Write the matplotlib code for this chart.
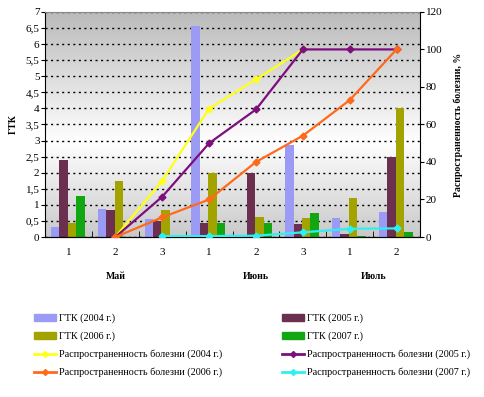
import numpy as np
import matplotlib
matplotlib.use("Agg")
import matplotlib.pyplot as plt
from matplotlib.colors import LinearSegmentedColormap
from matplotlib.lines import Line2D
from matplotlib.patches import Patch

# Данные
tick_labels = ["1", "2", "3", "1", "2", "3", "1", "2"]
months = ["Май", "Июнь", "Июль"]
month_pos = [1, 4, 6.5]

gtk_2004 = [0.31, 0.87, 0.57, 6.55, 0.05, 2.86, 0.58, 0.77]
gtk_2005 = [2.40, 0.85, 0.50, 0.45, 1.98, 0.41, 0.08, 2.50]
gtk_2006 = [0.45, 1.75, 0.85, 1.99, 0.62, 0.59, 1.21, 4.00]
gtk_2007 = [1.26, 0.00, 0.00, 0.45, 0.45, 0.75, 0.04, 0.15]

bol_2004 = [np.nan, 0, 30, 68.5, 84, 100, np.nan, np.nan]
bol_2005 = [np.nan, 0, 21.5, 50, 68, 100, 100, 100]
bol_2006 = [np.nan, 0, 10.5, 20, 40, 54, 73, 100]
bol_2007 = [np.nan, np.nan, 0.5, 0.5, 0.7, 2.5, 4.4, 4.6]

bar_colors = ["#9b9bf5", "#6b2f4f", "#a3a300", "#13a613"]
line_colors = ["#ffff1a", "#7d0f7d", "#ff6a1a", "#2ef0f0"]

plt.rcParams['font.family'] = ['Liberation Serif', 'DejaVu Serif']

fig = plt.figure(figsize=(4.85, 3.97), dpi=100)
ax = fig.add_axes([0.093, 0.403, 0.773, 0.567])

x = np.arange(len(tick_labels))
w = 0.18
series = [gtk_2004, gtk_2005, gtk_2006, gtk_2007]
for i, (vals, col) in enumerate(zip(series, bar_colors)):
    ax.bar(x + (i - 1.6) * w, vals, width=w, color=col, zorder=2)

ax.set_xlim(-0.5, len(x) - 0.5)
ax.set_ylim(0, 7)
ax.set_yticks(np.arange(0, 7.01, 0.5))
ax.set_yticklabels([("%g" % v).replace(".", ",") for v in np.arange(0, 7.01, 0.5)])
ax.set_xticks(x)
ax.set_xticklabels(tick_labels)
ax.set_xticks(np.arange(-0.5, len(x), 1), minor=True)
ax.tick_params(axis='x', which='major', length=0, pad=8, labelsize=8)
ax.tick_params(axis='x', which='minor', length=4, direction='in')
ax.tick_params(axis='y', labelsize=8, length=3, pad=1)
ax.yaxis.grid(True, color='black', linestyle=(0, (1.5, 2.5)), linewidth=1.0, zorder=1)
ax.set_axisbelow(True)
ax.set_ylabel("ГТК", fontsize=7, fontweight='bold', labelpad=6)
ax.spines["right"].set_visible(False)
ax.spines["top"].set_color("#888888")

# фон с градиентом
cmap = LinearSegmentedColormap.from_list("bg", [(0, "#c9c9c9"), (0.42, "#ffffff"), (1, "#bababa")])
grad = np.linspace(0, 1, 256).reshape(-1, 1)
ax.imshow(grad, cmap=cmap, aspect='auto', extent=[-0.5, len(x) - 0.5, 0, 7],
          origin='lower', zorder=0)

for m, p in zip(months, month_pos):
    ax.text(p, -0.155, m, transform=ax.get_xaxis_transform(), ha='center', va='top',
            fontsize=7, fontweight='bold')

ax2 = ax.twinx()
ax2.set_ylim(0, 120)
ax2.set_yticks(range(0, 121, 20))
ax2.tick_params(axis='y', labelsize=8, length=3, pad=1)
for sp in ["top", "left"]:
    ax2.spines[sp].set_visible(False)
lines = [bol_2004, bol_2005, bol_2006, bol_2007]
for vals, col in zip(lines, line_colors):
    ax2.plot(x, vals, color=col, linewidth=1.6, marker='D', markersize=3.5, zorder=3)
ax2.set_ylabel("Распространенность болезни, %", fontsize=7, fontweight='bold',
               rotation=90, labelpad=8)
ax2.set_xlim(-0.5, len(x) - 0.5)

names = ["ГТК (2004 г.)", "ГТК (2005 г.)", "ГТК (2006 г.)", "ГТК (2007 г.)"]
lnames = ["Распространенность болезни (2004 г.)", "Распространенность болезни (2005 г.)",
          "Распространенность болезни (2006 г.)", "Распространенность болезни (2007 г.)"]
bh = [Patch(color=c) for c in bar_colors]
lh = [Line2D([], [], color=c, linewidth=2, marker='D', markersize=3) for c in line_colors]
handles = [bh[0], bh[2], lh[0], lh[2], bh[1], bh[3], lh[1], lh[3]]
labels = [names[0], names[2], lnames[0], lnames[2], names[1], names[3], lnames[1], lnames[3]]
fig.legend(handles, labels, ncol=2, loc='upper left', bbox_to_anchor=(0.062, 0.22),
           frameon=False, fontsize=7.3, handlelength=2.2, handleheight=0.6,
           columnspacing=5.9, labelspacing=0.82, handletextpad=0.25, borderaxespad=0)

fig.savefig("out.png", dpi=100)
